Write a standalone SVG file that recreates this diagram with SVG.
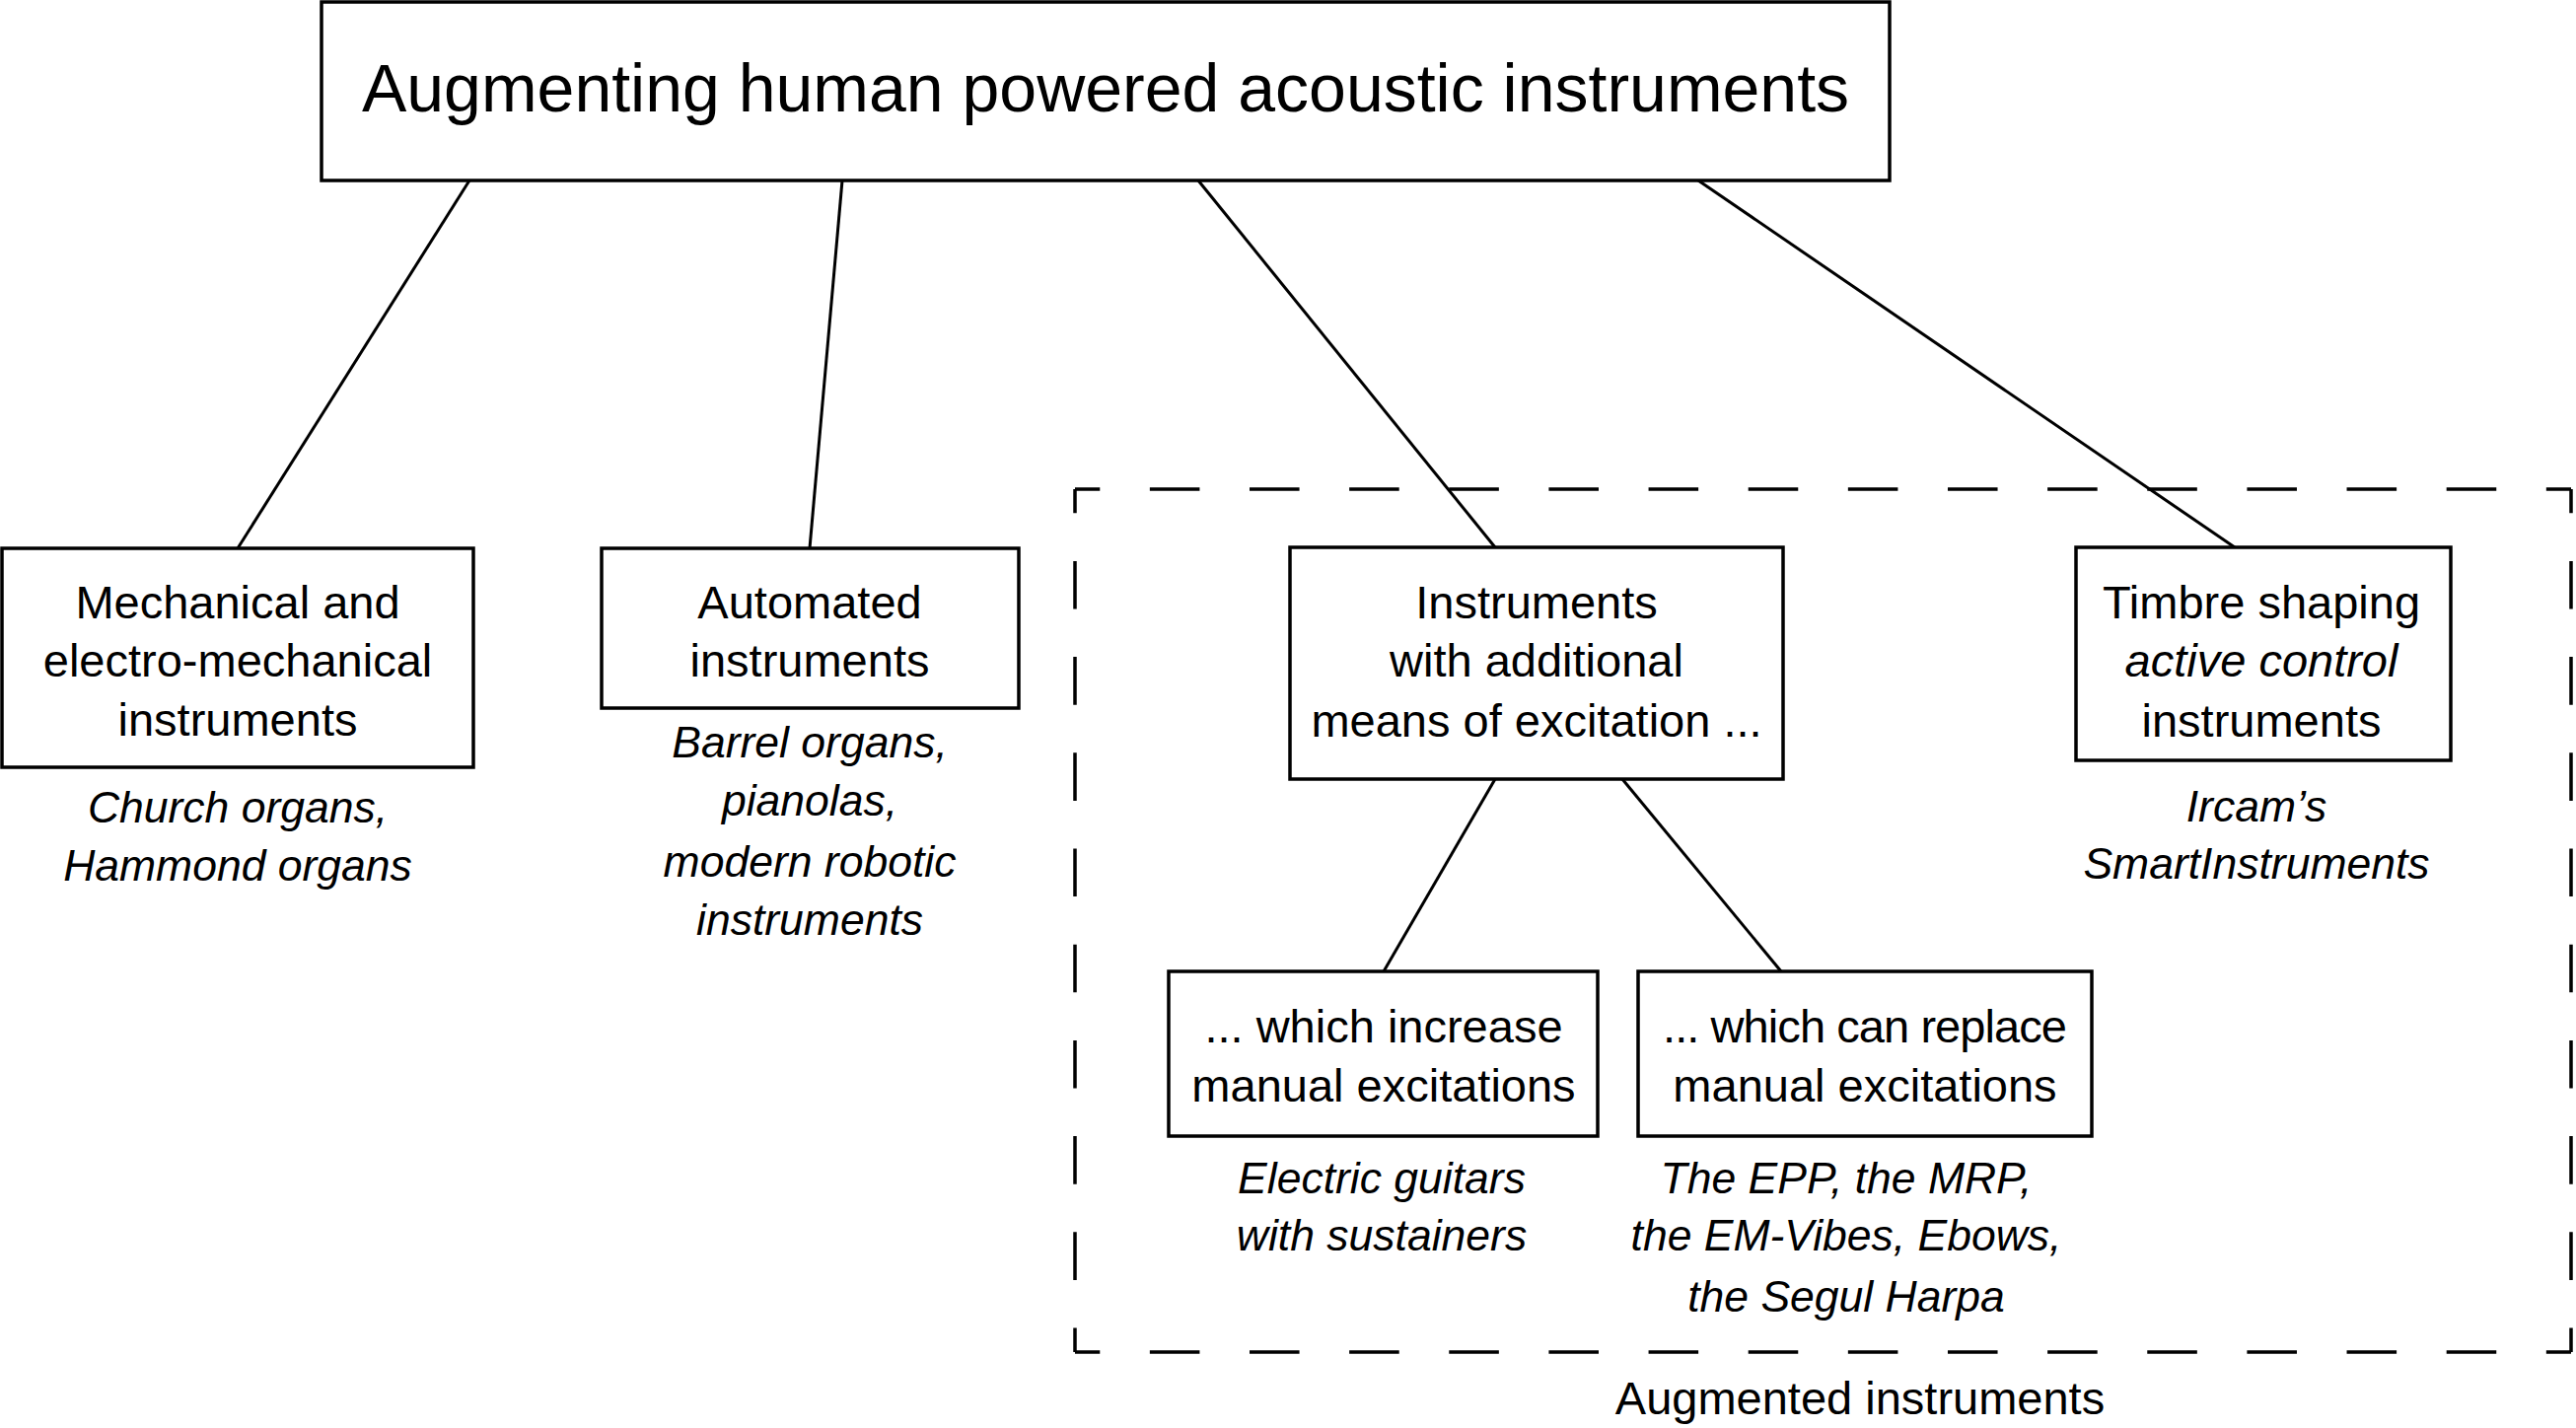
<svg xmlns="http://www.w3.org/2000/svg" width="2612" height="1448" viewBox="0 0 2612 1448">
<style>
.box{fill:#fff;stroke:#000;stroke-width:3.5}
.t{font-family:"Liberation Sans",Arial,sans-serif;font-size:47px;text-anchor:middle;fill:#000}
.i{font-style:italic;font-size:44.5px}
.title{font-size:68px}
.c{stroke:#000;stroke-width:3;fill:none}
.d{stroke:#000;stroke-width:3.5;fill:none}
</style>
<rect width="2612" height="1448" fill="#fff"/>
<g id="group-augmented">
<line class="d" x1="1090" y1="496" x2="2607" y2="496" stroke-dasharray="50.57 50.57" stroke-dashoffset="25.28"/>
<line class="d" x1="1090" y1="1371" x2="2607" y2="1371" stroke-dasharray="50.57 50.57" stroke-dashoffset="25.28"/>
<line class="d" x1="1090" y1="496" x2="1090" y2="1371" stroke-dasharray="48.6 48.6" stroke-dashoffset="24.3"/>
<line class="d" x1="2607" y1="496" x2="2607" y2="1371" stroke-dasharray="48.6 48.6" stroke-dashoffset="24.3"/>
<text class="t" x="1886" y="1434">Augmented instruments</text>
</g>
<g id="connectors">
<line class="c" x1="476" y1="183" x2="241" y2="556"/>
<line class="c" x1="854" y1="183" x2="821" y2="556"/>
<line class="c" x1="1215" y1="183" x2="1516" y2="555"/>
<line class="c" x1="1722" y1="183" x2="2266" y2="555"/>
<line class="c" x1="1516" y1="790" x2="1403" y2="985"/>
<line class="c" x1="1645" y1="790" x2="1806" y2="985"/>
</g>
<g id="node-root">
<rect class="box" x="326" y="2" width="1590" height="181"/>
<text class="t title" x="1121" y="113">Augmenting human powered acoustic instruments</text>
</g>
<g id="node-mechanical">
<rect class="box" x="2" y="556" width="478" height="222"/>
<text class="t" x="241" y="627">Mechanical and</text>
<text class="t" x="241" y="686">electro-mechanical</text>
<text class="t" x="241" y="746">instruments</text>
<text class="t i" x="241" y="834">Church organs,</text>
<text class="t i" x="241" y="893">Hammond organs</text>
</g>
<g id="node-automated">
<rect class="box" x="610" y="556" width="423" height="162"/>
<text class="t" x="821" y="627">Automated</text>
<text class="t" x="821" y="686">instruments</text>
<text class="t i" x="821" y="768">Barrel organs,</text>
<text class="t i" x="821" y="827">pianolas,</text>
<text class="t i" x="821" y="889">modern robotic</text>
<text class="t i" x="821" y="948">instruments</text>
</g>
<g id="node-excitation">
<rect class="box" x="1308" y="555" width="500" height="235"/>
<text class="t" x="1558" y="627">Instruments</text>
<text class="t" x="1558" y="686">with additional</text>
<text class="t" x="1558" y="747">means of excitation ...</text>
</g>
<g id="node-timbre">
<rect class="box" x="2105" y="555" width="380" height="216"/>
<text class="t" x="2293" y="627">Timbre shaping</text>
<text class="t i" x="2293" y="686" style="font-size:47px">active control</text>
<text class="t" x="2293" y="747">instruments</text>
<text class="t i" x="2288" y="833">Ircam’s</text>
<text class="t i" x="2288" y="891">SmartInstruments</text>
</g>
<g id="node-increase">
<rect class="box" x="1185" y="985" width="435" height="167"/>
<text class="t" x="1403" y="1057">... which increase</text>
<text class="t" x="1403" y="1117">manual excitations</text>
<text class="t i" x="1401" y="1210">Electric guitars</text>
<text class="t i" x="1401" y="1268">with sustainers</text>
</g>
<g id="node-replace">
<rect class="box" x="1661" y="985" width="460" height="167"/>
<text class="t" x="1891" y="1057" textLength="410" lengthAdjust="spacing">... which can replace</text>
<text class="t" x="1891" y="1117">manual excitations</text>
<text class="t i" x="1872" y="1210">The EPP, the MRP,</text>
<text class="t i" x="1872" y="1268">the EM-Vibes, Ebows,</text>
<text class="t i" x="1872" y="1330">the Segul Harpa</text>
</g>
</svg>
